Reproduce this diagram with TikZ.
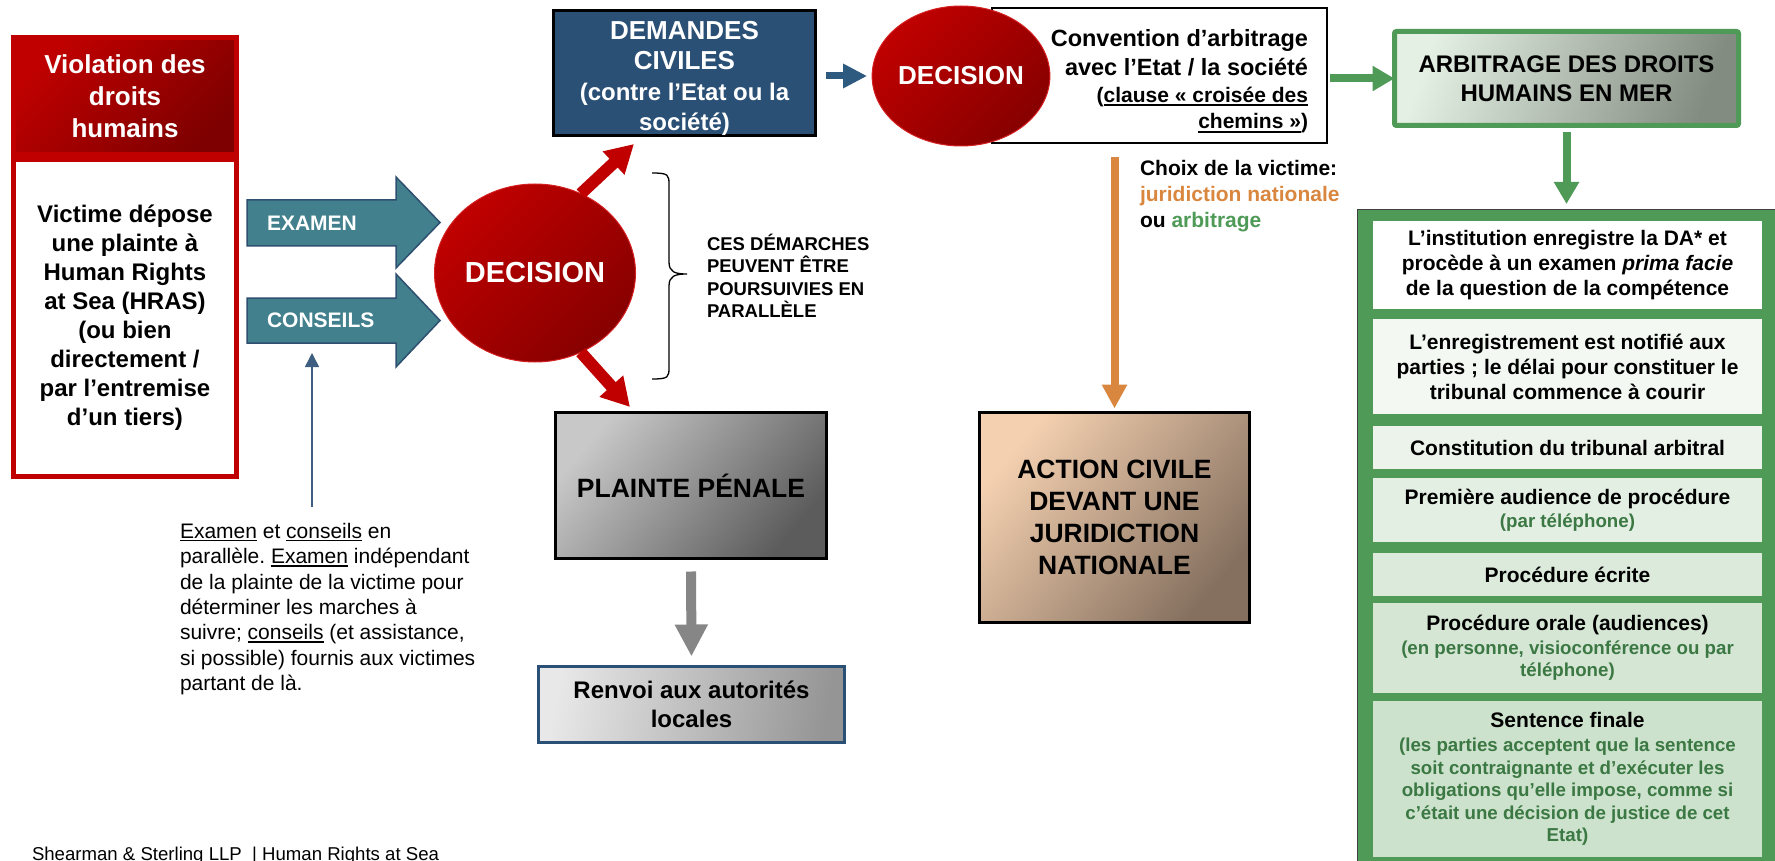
\documentclass[tikz,border=0pt]{standalone}
\usepackage{fontspec}
\setmainfont{Liberation Sans}
\usetikzlibrary{shapes.geometric,arrows.meta,calc}
\frenchspacing
\definecolor{dred}{HTML}{C00000}
\definecolor{ddred}{HTML}{7E0000}
\definecolor{cred}{HTML}{C00000}
\definecolor{credd}{HTML}{870000}
\definecolor{credb}{HTML}{D42020}
\definecolor{tealf}{HTML}{41808C}
\definecolor{tealb}{HTML}{2E4F70}
\definecolor{navy}{HTML}{2A5075}
\definecolor{navyb}{HTML}{2F5A80}
\definecolor{upcol}{HTML}{3E5F82}
\definecolor{grn}{HTML}{4F9A57}
\definecolor{dgrn}{HTML}{3B7843}
\definecolor{orng}{HTML}{D9873F}
\definecolor{arbL}{HTML}{E4F0E4}
\definecolor{arbR}{HTML}{838C81}
\definecolor{penL}{HTML}{C8C8C8}
\definecolor{penR}{HTML}{5C5C5C}
\definecolor{renL}{HTML}{E8E8E8}
\definecolor{renR}{HTML}{959595}
\definecolor{actL}{HTML}{F4D0B0}
\definecolor{actR}{HTML}{85705F}
\definecolor{sbA}{HTML}{FFFFFF}
\definecolor{sbB}{HTML}{F3F8F3}
\definecolor{sbC}{HTML}{EBF3EB}
\definecolor{sbD}{HTML}{E4EFE4}
\definecolor{sbE}{HTML}{DCEADC}
\definecolor{sbF}{HTML}{D5E6D5}
\definecolor{sbG}{HTML}{CCE2CC}
\newsavebox\ulbx
\newcommand\ulA[1]{\leavevmode\sbox\ulbx{#1}\rlap{\rule[-4pt]{\wd\ulbx}{1.8pt}}\usebox\ulbx}
\newcommand\ulB[1]{\leavevmode\sbox\ulbx{#1}\rlap{\rule[-2.8pt]{\wd\ulbx}{1.3pt}}\usebox\ulbx}
\newcommand\gs[1]{{\fontsize{18.7}{22}\selectfont\color{dgrn}#1}}
\tikzset{
  every node/.style={outer sep=0pt, inner sep=0pt},
  blockarr/.style={fill=tealf, draw=tealb, line width=1.5pt, line join=miter},
  decis/.style={ellipse, left color=cred, right color=credd, shading angle=45, draw=credb, line width=1pt, text=white},
  redarr/.style={draw=dred, line width=12pt, -{Triangle[width=30pt,length=28pt]}},
  greenarr/.style={draw=grn, line width=8pt, -{Triangle[width=24pt,length=22pt]}},
  subbox/.style={minimum width=389pt, align=center, font=\fontsize{21}{25}\selectfont\bfseries},
}
\begin{document}
\begin{tikzpicture}[x=1pt,y=-1pt]
\useasboundingbox (0,0) rectangle (1775,861);

% left column
\node[draw=dred, line width=5pt, fill=white, minimum width=223pt, minimum height=317pt,
  font=\fontsize{24}{29}\selectfont\bfseries, align=center] (vict) at (125,318)
  {Victime dépose\\une plainte à\\Human Rights\\at Sea (HRAS)\\(ou bien\\directement /\\par l’entremise\\d’un tiers)};
\node[draw=dred, line width=5pt, left color=dred, right color=ddred, shading angle=45,
  minimum width=223pt, minimum height=117pt, text=white,
  font=\fontsize{26}{32}\selectfont\bfseries, align=center] (viol) at (125,96)
  {Violation des\\droits\\humains};

% block arrows
\path[blockarr] (247,200) -- (396,200) -- (396,177) -- (440,222.5) -- (396,268) -- (396,246) -- (247,246) -- cycle;
\node[anchor=west, text=white, font=\fontsize{21}{25}\selectfont\bfseries] (exam) at (267,223) {EXAMEN};
\path[blockarr] (247,298) -- (396,298) -- (396,274) -- (440,320.5) -- (396,367) -- (396,343) -- (247,343) -- cycle;
\node[anchor=west, text=white, font=\fontsize{21}{25}\selectfont\bfseries] (cons) at (267,320.5) {CONSEILS};

% annotation
\node[anchor=west, align=left, font=\fontsize{21}{25.3}\selectfont] (ann) at (180,609)
  {\ulB{Examen} et \ulB{conseils} en\\parallèle. \ulB{Examen} indépendant\\de la plainte de la victime pour\\déterminer les marches à\\suivre; \ulB{conseils} (et assistance,\\si possible) fournis aux victimes\\partant de là.};
\coordinate (annup) at (312,507);
\coordinate (consb) at (312,353);
\draw[draw=upcol, line width=1.5pt, -{Triangle[width=14pt,length=14pt]}] (annup) -- (consb);

% decision 1
\node[decis, minimum width=201pt, minimum height=178pt, font=\fontsize{29}{34}\selectfont\bfseries] (dec1) at (535,273) {DECISION};

% demandes civiles
\node[draw=black, line width=2.5pt, fill=navy, minimum width=262pt, minimum height=125pt] (dem) at (684.5,73) {};
\node[text=white, align=center, font=\fontsize{24}{30.5}\selectfont\bfseries] (demt) at (684.5,78.5)
  {{\fontsize{26}{31}\selectfont DEMANDES}\\{\fontsize{26}{31}\selectfont CIVILES}\\(contre l’Etat ou la\\société)};

% penal
\node[draw=black, line width=2.5pt, left color=penL, right color=penR, shading angle=50,
  minimum width=271pt, minimum height=146pt, font=\fontsize{26.5}{32}\selectfont\bfseries] (pen) at (691,485.5) {PLAINTE PÉNALE};
\node[draw=navy, line width=2.5pt, left color=renL, right color=renR, shading angle=80,
  minimum width=306pt, minimum height=76pt, align=center, font=\fontsize{24}{29}\selectfont\bfseries] (renv) at (691.5,704.5)
  {Renvoi aux autorités\\locales};
\draw[draw=gray!95, line width=10pt, -{Triangle[width=31pt,length=32pt]}, shorten <=13pt, shorten >=10pt] (pen.south) -- (renv.north);

% red arrows
\coordinate (t1) at (634,144);
\coordinate (t2) at (630,407);
\draw[redarr] (dec1.60) -- (t1);
\draw[redarr] (dec1.-60) -- (t2);

% brace + text
\draw[line width=1.3pt] (652,173) .. controls (669,173) and (669,175) .. (669,185) -- (669,262)
  .. controls (669,272) and (675,274) .. (687,274) .. controls (675,274) and (669,276) .. (669,286)
  -- (669,367) .. controls (669,377) and (669,379) .. (652,379);
\node[anchor=west, align=left, font=\fontsize{18.5}{22.5}\selectfont\bfseries] (par) at (707,276)
  {CES DÉMARCHES\\PEUVENT ÊTRE\\POURSUIVIES EN\\PARALLÈLE};

% convention + decision 2
\node[draw=black, line width=2pt, fill=white, minimum width=335pt, minimum height=135pt] (conv) at (1159.5,75.5) {};
\node[anchor=east, align=right, font=\fontsize{21}{26.5}\selectfont\bfseries] (convt) at (1308,81)
  {{\fontsize{23.5}{29}\selectfont Convention d’arbitrage}\\[3pt]{\fontsize{23.5}{29}\selectfont avec l’Etat / la société}\\(\ulA{clause « croisée des}\\\ulA{chemins »})};
\node[decis, minimum width=158pt, minimum height=140pt, font=\fontsize{26}{31}\selectfont\bfseries] (dec2) at (961,76) {DECISION};
\draw[draw=navyb, line width=7pt, -{Triangle[width=23pt,length=24pt]}, shorten <=10pt, shorten >=5pt] (dem.east |- dec2.west) -- (dec2.west);

% arbitrage
\node[draw=grn, line width=5pt, rounded corners=2pt, left color=arbL, right color=arbR, shading angle=70,
  minimum width=344pt, minimum height=94pt, align=center, font=\fontsize{24}{29}\selectfont\bfseries] (arb) at (1566.5,78.5)
  {ARBITRAGE DES DROITS\\HUMAINS EN MER};
\draw[greenarr, shorten <=3pt] (conv.east |- arb.west) -- (arb.west);

% action civile
\node[draw=black, line width=2.5pt, left color=actL, right color=actR, shading angle=50,
  minimum width=270pt, minimum height=210pt, align=center, font=\fontsize{26.5}{32}\selectfont\bfseries] (act) at (1114.5,517.5)
  {ACTION CIVILE\\DEVANT UNE\\JURIDICTION\\NATIONALE};
\draw[draw=orng, line width=8pt, -{Triangle[width=24pt,length=24pt]}, shorten <=14pt, shorten >=4pt] (act.north |- conv.south) -- (act.north);
\node[anchor=west, align=left, font=\fontsize{21}{26}\selectfont\bfseries] (choix) at (1140,196)
  {Choix de la victime:\\\textcolor{orng}{juridiction nationale}\\ou \textcolor{grn}{arbitrage}};

% arbitration panel
\node[draw=black!75, line width=1pt, fill=grn, minimum width=430pt, minimum height=670pt, anchor=north west] (panel) at (1357,210) {};
\draw[greenarr, shorten <=7pt, shorten >=6pt] (arb.south) -- (arb.south |- panel.north);
\node[subbox, fill=sbA, minimum height=88pt] (s1) at (1567.5,265)
  {L’institution enregistre la DA* et\\procède à un examen \textit{prima facie}\\de la question de la compétence};
\node[subbox, fill=sbB, minimum height=95pt] (s2) at (1567.5,366.5)
  {L’enregistrement est notifié aux\\parties ; le délai pour constituer le\\tribunal commence à courir};
\node[subbox, fill=sbC, minimum height=43pt] (s3) at (1567.5,447.5)
  {Constitution du tribunal arbitral};
\node[subbox, fill=sbD, minimum height=64pt, font=\fontsize{21}{23}\selectfont\bfseries] (s4) at (1567.5,510)
  {Première audience de procédure\\\gs{(par téléphone)}};
\node[subbox, fill=sbE, minimum height=43pt] (s5) at (1567.5,574.5)
  {Procédure écrite};
\node[subbox, fill=sbF, minimum height=90pt, font=\fontsize{21}{22.5}\selectfont\bfseries] (s6) at (1567.5,648)
  {Procédure orale (audiences)\\[1pt]\gs{(en personne, visioconférence ou par}\\\gs{téléphone)}};
\node[subbox, fill=sbG, minimum height=156pt, font=\fontsize{21}{22.5}\selectfont\bfseries] (s7) at (1567.5,779)
  {Sentence finale\\[2pt]\gs{(les parties acceptent que la sentence}\\\gs{soit contraignante et d’exécuter les}\\\gs{obligations qu’elle impose, comme si}\\\gs{c’était une décision de justice de cet}\\\gs{Etat)}};

% footer
\node[anchor=base west, font=\fontsize{18.6}{22}\selectfont] (foot) at (32,860) {Shearman \& Sterling LLP\ \ | Human Rights at Sea};
\end{tikzpicture}
\end{document}
